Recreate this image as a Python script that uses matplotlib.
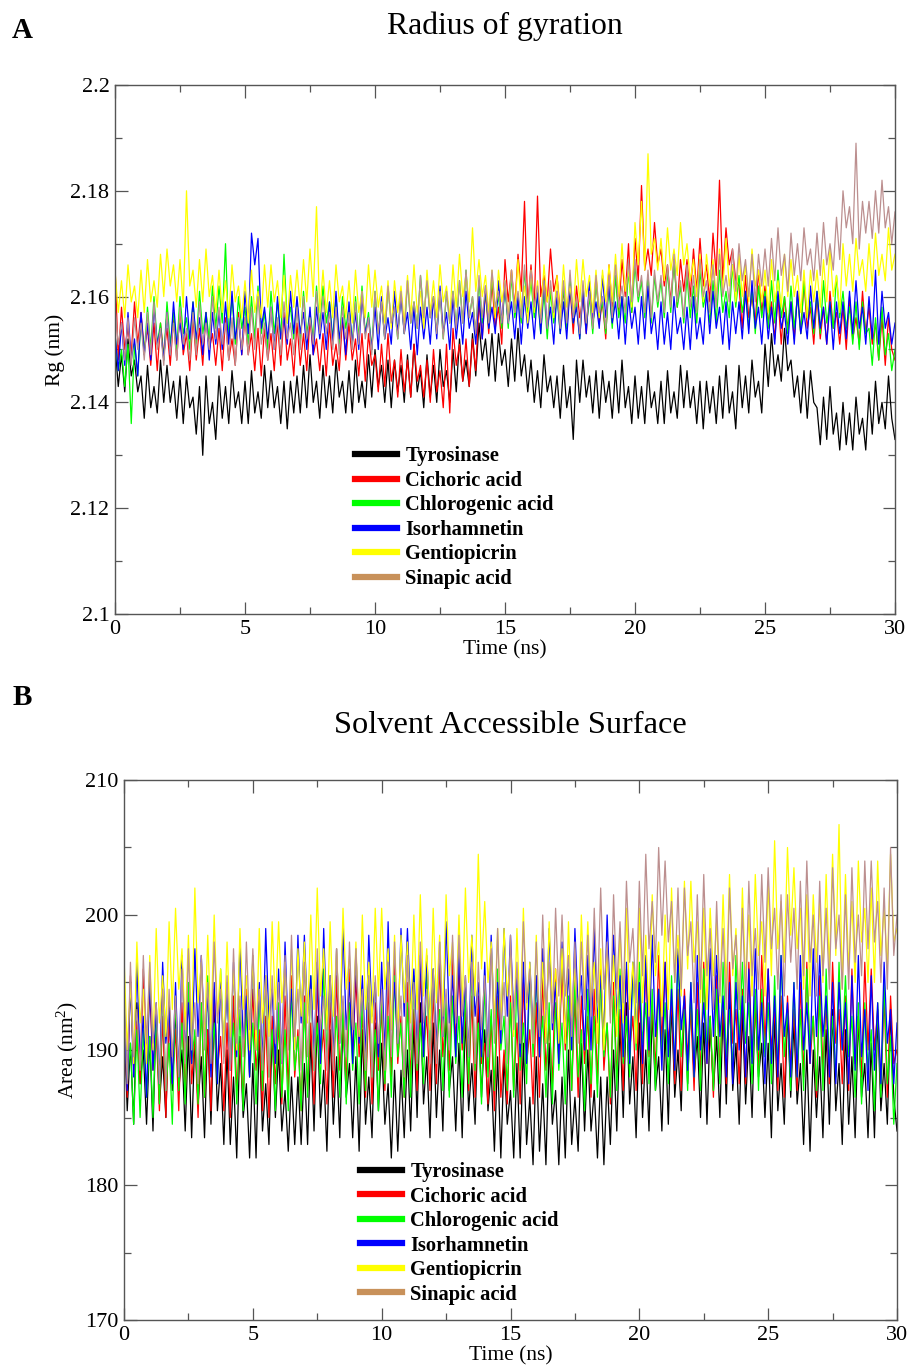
import numpy as np
import matplotlib
matplotlib.use("Agg")
import matplotlib.pyplot as plt
from matplotlib.lines import Line2D
from matplotlib.ticker import MultipleLocator, FuncFormatter

plt.rcParams['font.family'] = ['Liberation Serif', 'DejaVu Serif']
plt.rcParams['mathtext.fontset'] = 'custom'
plt.rcParams['mathtext.rm'] = 'Liberation Serif'
plt.rcParams['mathtext.it'] = 'Liberation Serif:italic'

labels = ["Tyrosinase", "Cichoric acid", "Chlorogenic acid", "Isorhamnetin",
          "Gentiopicrin", "Sinapic acid"]
line_colors = ["#000000", "#ff0000", "#00ff00", "#0000ff", "#ffff00", "#bc8f8f"]
legend_colors = ["#000000", "#ff0000", "#00ff00", "#0000ff", "#ffff00", "#c8915a"]

# ------------- Panel A: radius of gyration (nm), one row per ns, 0.125 ns steps -------------
rg_tyrosinase = [
    2.151, 2.143, 2.149, 2.142, 2.152, 2.145, 2.148, 2.142,
    2.145, 2.137, 2.147, 2.139, 2.143, 2.138, 2.148, 2.140,
    2.147, 2.140, 2.144, 2.137, 2.145, 2.136, 2.145, 2.139,
    2.141, 2.134, 2.143, 2.130, 2.145, 2.136, 2.140, 2.133,
    2.145, 2.137, 2.143, 2.136, 2.146, 2.139, 2.142, 2.136,
    2.144, 2.136, 2.146, 2.138, 2.142, 2.137, 2.147, 2.139,
    2.146, 2.139, 2.143, 2.136, 2.144, 2.135, 2.144, 2.138,
    2.145, 2.138, 2.147, 2.139, 2.149, 2.140, 2.144, 2.137,
    2.147, 2.139, 2.145, 2.138, 2.148, 2.141, 2.144, 2.138,
    2.146, 2.138, 2.148, 2.140, 2.144, 2.139, 2.149, 2.141,
    2.150, 2.143, 2.147, 2.140, 2.148, 2.139, 2.148, 2.142,
    2.147, 2.140, 2.149, 2.141, 2.151, 2.142, 2.146, 2.139,
    2.149, 2.141, 2.147, 2.140, 2.150, 2.143, 2.146, 2.140,
    2.150, 2.142, 2.152, 2.144, 2.148, 2.143, 2.153, 2.145,
    2.155, 2.148, 2.152, 2.145, 2.153, 2.144, 2.153, 2.147,
    2.150, 2.143, 2.152, 2.144, 2.154, 2.145, 2.149, 2.142,
    2.148, 2.140, 2.146, 2.139, 2.149, 2.142, 2.145, 2.139,
    2.145, 2.137, 2.147, 2.139, 2.143, 2.133, 2.148, 2.140,
    2.148, 2.141, 2.145, 2.138, 2.146, 2.137, 2.146, 2.140,
    2.144, 2.137, 2.146, 2.138, 2.148, 2.139, 2.143, 2.136,
    2.145, 2.137, 2.143, 2.136, 2.146, 2.139, 2.142, 2.136,
    2.144, 2.136, 2.146, 2.138, 2.142, 2.137, 2.147, 2.139,
    2.146, 2.139, 2.143, 2.136, 2.144, 2.135, 2.144, 2.138,
    2.143, 2.136, 2.145, 2.137, 2.147, 2.138, 2.142, 2.135,
    2.147, 2.139, 2.145, 2.138, 2.148, 2.141, 2.144, 2.138,
    2.151, 2.143, 2.153, 2.145, 2.149, 2.144, 2.154, 2.146,
    2.148, 2.141, 2.145, 2.138, 2.146, 2.137, 2.146, 2.140,
    2.139, 2.132, 2.141, 2.133, 2.143, 2.134, 2.138, 2.131,
    2.140, 2.132, 2.138, 2.131, 2.141, 2.134, 2.137, 2.131,
    2.142, 2.134, 2.144, 2.136, 2.140, 2.135, 2.145, 2.137,
    2.133]
rg_cichoric = [
    2.166, 2.148, 2.158, 2.150, 2.154, 2.149, 2.159, 2.151,
    2.157, 2.150, 2.154, 2.147, 2.155, 2.146, 2.155, 2.149,
    2.154, 2.147, 2.156, 2.148, 2.158, 2.149, 2.153, 2.146,
    2.156, 2.148, 2.154, 2.147, 2.157, 2.150, 2.153, 2.147,
    2.154, 2.146, 2.156, 2.148, 2.152, 2.147, 2.157, 2.149,
    2.156, 2.149, 2.153, 2.146, 2.154, 2.145, 2.154, 2.148,
    2.153, 2.146, 2.155, 2.147, 2.157, 2.148, 2.152, 2.145,
    2.155, 2.147, 2.153, 2.146, 2.156, 2.149, 2.152, 2.146,
    2.153, 2.145, 2.155, 2.147, 2.151, 2.146, 2.156, 2.148,
    2.155, 2.148, 2.152, 2.145, 2.153, 2.144, 2.153, 2.147,
    2.149, 2.142, 2.151, 2.143, 2.153, 2.144, 2.148, 2.141,
    2.150, 2.142, 2.148, 2.141, 2.151, 2.144, 2.147, 2.141,
    2.148, 2.140, 2.150, 2.142, 2.146, 2.139, 2.151, 2.138,
    2.154, 2.147, 2.151, 2.144, 2.152, 2.143, 2.152, 2.146,
    2.159, 2.152, 2.161, 2.153, 2.163, 2.154, 2.158, 2.151,
    2.167, 2.159, 2.165, 2.158, 2.168, 2.161, 2.178, 2.158,
    2.166, 2.158, 2.179, 2.160, 2.164, 2.159, 2.169, 2.161,
    2.164, 2.157, 2.161, 2.154, 2.162, 2.153, 2.162, 2.156,
    2.160, 2.153, 2.162, 2.154, 2.164, 2.155, 2.159, 2.152,
    2.166, 2.158, 2.164, 2.157, 2.167, 2.160, 2.170, 2.157,
    2.171, 2.163, 2.181, 2.165, 2.169, 2.164, 2.174, 2.166,
    2.169, 2.162, 2.166, 2.159, 2.167, 2.158, 2.167, 2.161,
    2.167, 2.160, 2.169, 2.161, 2.171, 2.162, 2.166, 2.159,
    2.172, 2.164, 2.182, 2.163, 2.173, 2.166, 2.169, 2.163,
    2.162, 2.154, 2.164, 2.156, 2.160, 2.155, 2.165, 2.157,
    2.162, 2.155, 2.159, 2.152, 2.160, 2.151, 2.160, 2.154,
    2.159, 2.152, 2.161, 2.153, 2.163, 2.154, 2.158, 2.151,
    2.160, 2.152, 2.158, 2.151, 2.161, 2.154, 2.157, 2.151,
    2.158, 2.150, 2.160, 2.152, 2.156, 2.151, 2.161, 2.153,
    2.158, 2.151, 2.155, 2.148, 2.156, 2.147, 2.156, 2.150,
    2.148]
rg_chlorogenic = [
    2.153, 2.146, 2.150, 2.143, 2.151, 2.136, 2.151, 2.145,
    2.156, 2.149, 2.158, 2.150, 2.160, 2.151, 2.155, 2.148,
    2.159, 2.151, 2.157, 2.150, 2.160, 2.153, 2.156, 2.150,
    2.159, 2.151, 2.161, 2.153, 2.157, 2.152, 2.162, 2.154,
    2.162, 2.155, 2.170, 2.152, 2.160, 2.151, 2.160, 2.154,
    2.158, 2.151, 2.160, 2.152, 2.162, 2.153, 2.157, 2.150,
    2.161, 2.153, 2.159, 2.152, 2.168, 2.155, 2.158, 2.152,
    2.159, 2.151, 2.161, 2.153, 2.157, 2.152, 2.162, 2.154,
    2.162, 2.155, 2.159, 2.152, 2.160, 2.151, 2.160, 2.154,
    2.158, 2.151, 2.160, 2.152, 2.162, 2.153, 2.157, 2.150,
    2.161, 2.153, 2.159, 2.152, 2.162, 2.155, 2.158, 2.152,
    2.161, 2.153, 2.163, 2.155, 2.159, 2.154, 2.164, 2.156,
    2.163, 2.156, 2.160, 2.153, 2.161, 2.152, 2.161, 2.155,
    2.161, 2.154, 2.163, 2.155, 2.165, 2.156, 2.160, 2.153,
    2.163, 2.155, 2.161, 2.154, 2.164, 2.157, 2.160, 2.154,
    2.162, 2.154, 2.164, 2.156, 2.160, 2.155, 2.165, 2.157,
    2.163, 2.156, 2.160, 2.153, 2.161, 2.152, 2.161, 2.155,
    2.160, 2.153, 2.162, 2.154, 2.164, 2.155, 2.159, 2.152,
    2.162, 2.154, 2.160, 2.153, 2.163, 2.156, 2.159, 2.153,
    2.162, 2.154, 2.164, 2.156, 2.160, 2.155, 2.165, 2.157,
    2.166, 2.159, 2.163, 2.156, 2.164, 2.155, 2.164, 2.158,
    2.163, 2.156, 2.165, 2.157, 2.167, 2.158, 2.162, 2.155,
    2.164, 2.156, 2.162, 2.155, 2.165, 2.158, 2.161, 2.155,
    2.163, 2.155, 2.165, 2.157, 2.161, 2.156, 2.166, 2.158,
    2.164, 2.157, 2.161, 2.154, 2.162, 2.153, 2.162, 2.156,
    2.161, 2.154, 2.163, 2.155, 2.165, 2.156, 2.160, 2.153,
    2.162, 2.154, 2.160, 2.153, 2.163, 2.156, 2.159, 2.153,
    2.161, 2.153, 2.163, 2.155, 2.159, 2.154, 2.164, 2.156,
    2.161, 2.154, 2.158, 2.151, 2.159, 2.150, 2.159, 2.153,
    2.154, 2.147, 2.156, 2.148, 2.158, 2.149, 2.153, 2.146,
    2.150]
rg_isorhamnetin = [
    2.153, 2.146, 2.155, 2.147, 2.157, 2.148, 2.152, 2.145,
    2.157, 2.149, 2.155, 2.148, 2.158, 2.151, 2.154, 2.148,
    2.157, 2.149, 2.159, 2.151, 2.155, 2.150, 2.160, 2.152,
    2.159, 2.152, 2.156, 2.149, 2.157, 2.148, 2.157, 2.151,
    2.157, 2.150, 2.159, 2.151, 2.161, 2.152, 2.156, 2.149,
    2.161, 2.153, 2.172, 2.166, 2.171, 2.154, 2.158, 2.152,
    2.158, 2.150, 2.160, 2.152, 2.156, 2.151, 2.161, 2.153,
    2.160, 2.153, 2.157, 2.150, 2.158, 2.149, 2.158, 2.152,
    2.157, 2.150, 2.159, 2.151, 2.161, 2.152, 2.156, 2.149,
    2.159, 2.151, 2.157, 2.150, 2.160, 2.153, 2.156, 2.150,
    2.158, 2.150, 2.160, 2.152, 2.156, 2.151, 2.161, 2.153,
    2.160, 2.153, 2.157, 2.150, 2.158, 2.149, 2.158, 2.152,
    2.158, 2.151, 2.160, 2.152, 2.162, 2.153, 2.157, 2.150,
    2.160, 2.152, 2.158, 2.151, 2.161, 2.154, 2.157, 2.151,
    2.160, 2.152, 2.162, 2.154, 2.158, 2.153, 2.163, 2.155,
    2.162, 2.155, 2.159, 2.152, 2.160, 2.151, 2.160, 2.154,
    2.159, 2.152, 2.161, 2.153, 2.163, 2.154, 2.158, 2.151,
    2.161, 2.153, 2.159, 2.152, 2.162, 2.155, 2.158, 2.152,
    2.161, 2.153, 2.163, 2.155, 2.159, 2.154, 2.164, 2.156,
    2.162, 2.155, 2.159, 2.152, 2.160, 2.151, 2.160, 2.154,
    2.158, 2.151, 2.160, 2.152, 2.162, 2.153, 2.157, 2.150,
    2.159, 2.151, 2.157, 2.150, 2.160, 2.153, 2.156, 2.150,
    2.158, 2.150, 2.160, 2.152, 2.156, 2.151, 2.161, 2.153,
    2.161, 2.154, 2.158, 2.151, 2.159, 2.150, 2.159, 2.153,
    2.159, 2.152, 2.161, 2.153, 2.163, 2.154, 2.158, 2.151,
    2.160, 2.152, 2.158, 2.151, 2.161, 2.154, 2.157, 2.151,
    2.159, 2.151, 2.161, 2.153, 2.157, 2.152, 2.162, 2.154,
    2.161, 2.154, 2.158, 2.151, 2.159, 2.150, 2.159, 2.153,
    2.159, 2.152, 2.161, 2.153, 2.163, 2.154, 2.158, 2.151,
    2.160, 2.152, 2.165, 2.151, 2.161, 2.154, 2.157, 2.151,
    2.155]
rg_gentiopicrin = [
    2.165, 2.157, 2.163, 2.156, 2.166, 2.159, 2.162, 2.156,
    2.165, 2.157, 2.167, 2.159, 2.163, 2.158, 2.168, 2.160,
    2.169, 2.162, 2.166, 2.159, 2.167, 2.158, 2.180, 2.162,
    2.165, 2.158, 2.167, 2.159, 2.169, 2.160, 2.164, 2.157,
    2.165, 2.157, 2.163, 2.156, 2.166, 2.159, 2.162, 2.156,
    2.163, 2.155, 2.165, 2.157, 2.161, 2.156, 2.166, 2.158,
    2.166, 2.159, 2.163, 2.156, 2.164, 2.155, 2.164, 2.158,
    2.165, 2.158, 2.167, 2.159, 2.169, 2.160, 2.177, 2.157,
    2.165, 2.157, 2.163, 2.156, 2.166, 2.159, 2.162, 2.156,
    2.163, 2.155, 2.165, 2.157, 2.161, 2.156, 2.166, 2.158,
    2.165, 2.158, 2.162, 2.155, 2.163, 2.154, 2.163, 2.157,
    2.162, 2.155, 2.164, 2.156, 2.166, 2.157, 2.161, 2.154,
    2.165, 2.157, 2.163, 2.156, 2.166, 2.159, 2.162, 2.156,
    2.166, 2.158, 2.168, 2.160, 2.164, 2.159, 2.173, 2.161,
    2.167, 2.160, 2.164, 2.157, 2.165, 2.156, 2.165, 2.159,
    2.163, 2.156, 2.165, 2.157, 2.167, 2.158, 2.162, 2.155,
    2.165, 2.157, 2.163, 2.156, 2.166, 2.159, 2.162, 2.156,
    2.164, 2.156, 2.166, 2.158, 2.162, 2.157, 2.167, 2.159,
    2.167, 2.160, 2.164, 2.157, 2.165, 2.156, 2.165, 2.159,
    2.166, 2.159, 2.168, 2.160, 2.170, 2.161, 2.165, 2.158,
    2.174, 2.166, 2.178, 2.165, 2.187, 2.168, 2.171, 2.165,
    2.171, 2.163, 2.173, 2.165, 2.169, 2.164, 2.174, 2.166,
    2.170, 2.163, 2.167, 2.160, 2.168, 2.159, 2.168, 2.162,
    2.167, 2.160, 2.169, 2.161, 2.171, 2.162, 2.166, 2.159,
    2.168, 2.160, 2.166, 2.159, 2.169, 2.162, 2.165, 2.159,
    2.165, 2.157, 2.167, 2.159, 2.163, 2.158, 2.168, 2.160,
    2.167, 2.160, 2.164, 2.157, 2.165, 2.156, 2.165, 2.159,
    2.165, 2.158, 2.167, 2.159, 2.169, 2.160, 2.164, 2.157,
    2.170, 2.162, 2.168, 2.161, 2.171, 2.164, 2.167, 2.161,
    2.170, 2.162, 2.172, 2.164, 2.168, 2.163, 2.173, 2.165,
    2.168]
rg_sinapic = [
    2.158, 2.151, 2.155, 2.148, 2.156, 2.147, 2.156, 2.150,
    2.155, 2.148, 2.157, 2.149, 2.159, 2.150, 2.154, 2.147,
    2.157, 2.149, 2.155, 2.148, 2.158, 2.151, 2.154, 2.148,
    2.157, 2.149, 2.159, 2.151, 2.155, 2.150, 2.160, 2.152,
    2.158, 2.151, 2.155, 2.148, 2.156, 2.147, 2.156, 2.150,
    2.156, 2.149, 2.158, 2.150, 2.160, 2.151, 2.155, 2.148,
    2.158, 2.150, 2.156, 2.149, 2.159, 2.152, 2.155, 2.149,
    2.158, 2.150, 2.160, 2.152, 2.156, 2.151, 2.161, 2.153,
    2.160, 2.153, 2.157, 2.150, 2.158, 2.149, 2.158, 2.152,
    2.157, 2.150, 2.159, 2.151, 2.161, 2.152, 2.156, 2.149,
    2.161, 2.153, 2.159, 2.152, 2.162, 2.155, 2.158, 2.152,
    2.161, 2.153, 2.163, 2.155, 2.159, 2.154, 2.164, 2.156,
    2.163, 2.156, 2.160, 2.153, 2.161, 2.152, 2.161, 2.155,
    2.161, 2.154, 2.163, 2.155, 2.165, 2.156, 2.160, 2.153,
    2.164, 2.156, 2.162, 2.155, 2.165, 2.158, 2.161, 2.155,
    2.163, 2.155, 2.165, 2.157, 2.161, 2.156, 2.166, 2.158,
    2.165, 2.158, 2.162, 2.155, 2.163, 2.154, 2.163, 2.157,
    2.161, 2.154, 2.163, 2.155, 2.165, 2.156, 2.160, 2.153,
    2.163, 2.155, 2.161, 2.154, 2.164, 2.157, 2.160, 2.154,
    2.164, 2.156, 2.166, 2.158, 2.162, 2.157, 2.167, 2.159,
    2.167, 2.160, 2.164, 2.157, 2.165, 2.156, 2.165, 2.159,
    2.164, 2.157, 2.166, 2.158, 2.168, 2.159, 2.163, 2.156,
    2.166, 2.158, 2.164, 2.157, 2.167, 2.160, 2.163, 2.157,
    2.166, 2.158, 2.168, 2.160, 2.164, 2.159, 2.169, 2.161,
    2.170, 2.163, 2.167, 2.160, 2.168, 2.159, 2.168, 2.162,
    2.169, 2.162, 2.171, 2.163, 2.173, 2.164, 2.168, 2.161,
    2.172, 2.164, 2.170, 2.163, 2.173, 2.166, 2.169, 2.163,
    2.172, 2.164, 2.174, 2.166, 2.170, 2.165, 2.175, 2.167,
    2.180, 2.173, 2.177, 2.170, 2.189, 2.169, 2.178, 2.172,
    2.178, 2.171, 2.180, 2.172, 2.182, 2.173, 2.177, 2.170,
    2.176]

# ------------- Panel B: solvent accessible surface (nm^2), one row per ns -------------
sas_tyrosinase = [
    192.5, 185.5, 190.5, 184.5, 193.5, 187.5, 190.0, 184.5,
    191.0, 184.0, 193.0, 186.0, 189.5, 185.0, 193.5, 187.0,
    193.0, 187.0, 190.0, 184.0, 191.0, 183.5, 191.0, 186.0,
    189.5, 183.5, 191.5, 184.5, 193.0, 185.5, 189.0, 183.0,
    190.0, 183.0, 188.0, 182.0, 191.0, 185.0, 187.5, 182.0,
    189.0, 182.0, 191.0, 184.0, 187.5, 183.0, 191.5, 185.0,
    190.0, 184.0, 187.0, 182.5, 188.0, 183.0, 188.0, 183.0,
    189.0, 183.0, 191.0, 184.0, 192.5, 185.0, 188.5, 182.5,
    191.5, 184.5, 189.5, 183.5, 192.5, 186.5, 189.0, 183.5,
    189.5, 182.5, 191.5, 184.5, 188.0, 183.5, 192.0, 185.5,
    190.5, 184.5, 187.5, 182.0, 188.5, 182.5, 188.5, 183.5,
    190.0, 184.0, 192.0, 185.0, 193.5, 186.0, 189.5, 183.5,
    192.0, 185.0, 190.0, 184.0, 193.0, 187.0, 189.5, 184.0,
    190.5, 183.5, 192.5, 185.5, 189.0, 184.5, 193.0, 186.5,
    191.5, 185.5, 188.5, 182.5, 189.5, 182.0, 189.5, 184.5,
    187.0, 182.0, 189.0, 182.0, 190.5, 183.0, 186.5, 181.5,
    189.5, 182.5, 187.5, 181.5, 190.5, 184.5, 187.0, 181.5,
    188.0, 182.0, 190.0, 183.0, 186.5, 182.5, 190.5, 184.0,
    190.0, 184.0, 187.0, 182.0, 188.0, 181.5, 188.0, 183.0,
    190.0, 184.0, 192.0, 185.0, 193.5, 186.0, 189.5, 183.5,
    192.0, 185.0, 190.0, 184.0, 193.0, 187.0, 189.5, 184.0,
    191.5, 184.5, 193.5, 186.5, 190.0, 185.5, 194.0, 187.5,
    194.0, 188.0, 191.0, 185.0, 192.0, 184.5, 192.0, 187.0,
    191.0, 185.0, 193.0, 186.0, 194.5, 187.0, 190.5, 184.5,
    193.0, 186.0, 191.0, 185.0, 194.0, 188.0, 190.5, 185.0,
    190.5, 183.5, 192.5, 185.5, 189.0, 184.5, 193.0, 186.5,
    192.0, 186.0, 189.0, 183.0, 190.0, 182.5, 190.0, 185.0,
    189.5, 183.5, 191.5, 184.5, 193.0, 185.5, 189.0, 183.0,
    191.5, 184.5, 189.5, 183.5, 192.5, 186.5, 189.0, 183.5,
    190.5, 183.5, 192.5, 185.5, 189.0, 184.5, 193.0, 186.5,
    184.0]
sas_cichoric = [
    193.5, 186.5, 195.5, 188.5, 192.0, 187.5, 196.0, 189.5,
    194.5, 188.5, 191.5, 185.5, 192.5, 185.0, 192.5, 187.5,
    191.5, 185.5, 193.5, 186.5, 195.0, 187.5, 191.0, 185.0,
    193.5, 186.5, 191.5, 185.5, 194.5, 188.5, 191.0, 185.5,
    192.0, 185.0, 194.0, 187.0, 190.5, 186.0, 194.5, 188.0,
    194.5, 188.5, 191.5, 185.5, 192.5, 185.0, 192.5, 187.5,
    192.0, 186.0, 194.0, 187.0, 195.5, 188.0, 191.5, 185.5,
    194.0, 187.0, 192.0, 186.0, 195.0, 189.0, 191.5, 186.0,
    193.5, 186.5, 195.5, 188.5, 192.0, 187.5, 196.0, 189.5,
    195.5, 189.5, 192.5, 186.5, 193.5, 186.0, 193.5, 188.5,
    193.0, 187.0, 195.0, 188.0, 196.5, 189.0, 192.5, 186.5,
    195.0, 188.0, 193.0, 187.0, 196.0, 190.0, 192.5, 187.0,
    194.5, 187.5, 196.5, 189.5, 193.0, 188.5, 197.0, 190.5,
    196.0, 190.0, 193.0, 187.0, 194.0, 186.5, 194.0, 189.0,
    190.5, 186.0, 192.5, 185.5, 194.0, 186.5, 190.0, 186.0,
    194.0, 187.0, 192.0, 186.0, 195.0, 189.0, 191.5, 186.0,
    193.5, 186.5, 195.5, 188.5, 192.0, 187.5, 196.0, 189.5,
    196.0, 190.0, 193.0, 187.0, 194.0, 186.5, 194.0, 189.0,
    192.5, 186.5, 194.5, 187.5, 196.0, 188.5, 192.0, 186.0,
    195.0, 188.0, 193.0, 187.0, 196.0, 190.0, 192.5, 187.0,
    194.5, 187.5, 196.5, 189.5, 193.0, 188.5, 197.0, 190.5,
    196.5, 190.5, 193.5, 187.5, 194.5, 187.0, 194.5, 189.5,
    193.0, 187.0, 195.0, 188.0, 196.5, 189.0, 192.5, 186.5,
    195.5, 188.5, 193.5, 187.5, 196.5, 190.5, 193.0, 187.5,
    194.5, 187.5, 196.5, 189.5, 193.0, 188.5, 197.0, 190.5,
    196.0, 190.0, 193.0, 187.0, 194.0, 186.5, 194.0, 189.0,
    193.0, 187.0, 195.0, 188.0, 196.5, 189.0, 192.5, 186.5,
    195.5, 188.5, 193.5, 187.5, 196.5, 190.5, 193.0, 187.5,
    194.0, 187.0, 196.0, 189.0, 192.5, 188.0, 196.5, 190.0,
    196.0, 190.0, 193.0, 187.0, 194.0, 186.5, 194.0, 189.0,
    190.0]
sas_chlorogenic = [
    193.5, 187.5, 190.5, 184.5, 191.5, 185.0, 191.5, 186.5,
    191.0, 185.0, 193.0, 186.0, 194.5, 187.0, 190.5, 184.5,
    194.0, 187.0, 192.0, 186.0, 195.0, 189.0, 191.5, 186.0,
    193.5, 186.5, 195.5, 188.5, 192.0, 187.5, 196.0, 189.5,
    195.0, 189.0, 192.0, 186.0, 193.0, 185.5, 193.0, 188.0,
    192.0, 186.0, 194.0, 187.0, 195.5, 188.0, 191.5, 185.5,
    193.5, 186.5, 191.5, 185.5, 194.5, 188.5, 191.0, 185.5,
    193.5, 186.5, 195.5, 188.5, 192.0, 187.5, 196.0, 189.5,
    195.5, 189.5, 192.5, 186.5, 193.5, 186.0, 193.5, 188.5,
    192.0, 186.0, 194.0, 187.0, 195.5, 188.0, 191.5, 185.5,
    194.5, 187.5, 192.5, 186.5, 195.5, 189.5, 192.0, 186.5,
    193.5, 186.5, 195.5, 188.5, 192.0, 187.5, 196.0, 189.5,
    196.0, 190.0, 193.0, 187.0, 194.0, 186.5, 194.0, 189.0,
    192.5, 186.5, 194.5, 187.5, 196.0, 188.5, 192.0, 186.0,
    195.0, 188.0, 193.0, 187.0, 196.0, 190.0, 192.5, 187.0,
    193.5, 186.5, 195.5, 188.5, 192.0, 187.5, 196.0, 189.5,
    195.5, 189.5, 192.5, 186.5, 193.5, 186.0, 193.5, 188.5,
    192.0, 186.0, 194.0, 187.0, 195.5, 188.0, 191.5, 185.5,
    194.5, 187.5, 192.5, 186.5, 195.5, 189.5, 192.0, 186.5,
    194.0, 187.0, 196.0, 189.0, 192.5, 188.0, 196.5, 190.0,
    196.5, 190.5, 193.5, 187.5, 194.5, 187.0, 194.5, 189.5,
    193.5, 187.5, 195.5, 188.5, 197.0, 189.5, 193.0, 187.0,
    195.0, 188.0, 193.0, 187.0, 196.0, 190.0, 192.5, 187.0,
    194.5, 187.5, 196.5, 189.5, 193.0, 188.5, 197.0, 190.5,
    196.5, 190.5, 193.5, 187.5, 194.5, 187.0, 194.5, 189.5,
    193.5, 187.5, 195.5, 188.5, 197.0, 189.5, 193.0, 187.0,
    195.0, 188.0, 193.0, 187.0, 196.0, 190.0, 192.5, 187.0,
    194.0, 187.0, 196.0, 189.0, 192.5, 188.0, 196.5, 190.0,
    195.5, 189.5, 192.5, 186.5, 193.5, 186.0, 193.5, 188.5,
    191.5, 185.5, 193.5, 186.5, 195.0, 187.5, 191.0, 184.5,
    189.0]
sas_isorhamnetin = [
    193.0, 187.0, 195.0, 188.0, 196.5, 189.0, 192.5, 186.5,
    195.5, 188.5, 193.5, 187.5, 196.5, 190.5, 193.0, 187.5,
    195.0, 188.0, 197.0, 190.0, 193.5, 189.0, 197.5, 191.0,
    197.0, 191.0, 194.0, 188.0, 195.0, 187.5, 195.0, 190.0,
    194.5, 188.5, 196.5, 189.5, 198.0, 190.5, 194.0, 188.0,
    197.0, 190.0, 195.0, 189.0, 199.0, 192.0, 194.5, 189.0,
    196.0, 189.0, 198.0, 191.0, 194.5, 190.0, 198.5, 192.0,
    198.5, 192.5, 195.5, 189.5, 196.5, 189.0, 199.0, 191.5,
    195.5, 189.5, 197.5, 190.5, 199.0, 191.5, 195.0, 189.0,
    197.5, 190.5, 195.5, 189.5, 198.5, 192.5, 195.0, 189.5,
    196.5, 189.5, 199.5, 191.5, 195.0, 190.5, 199.0, 192.5,
    199.0, 193.0, 196.0, 190.0, 197.0, 189.5, 197.0, 192.0,
    196.0, 190.0, 198.0, 191.0, 199.5, 192.0, 195.5, 189.5,
    197.5, 190.5, 195.5, 189.5, 198.5, 192.5, 195.0, 189.5,
    196.5, 189.5, 198.5, 191.5, 195.0, 190.5, 199.0, 192.5,
    198.5, 192.5, 195.5, 189.5, 196.5, 189.0, 196.5, 191.5,
    195.5, 189.5, 197.5, 190.5, 199.0, 191.5, 195.0, 189.0,
    198.0, 191.0, 196.0, 190.0, 199.0, 193.0, 195.5, 190.0,
    197.0, 190.0, 199.0, 192.0, 195.5, 191.0, 200.0, 193.0,
    198.5, 192.5, 195.5, 189.5, 196.5, 189.0, 196.5, 191.5,
    195.0, 189.0, 197.0, 190.0, 198.5, 191.0, 194.5, 188.5,
    196.5, 189.5, 194.5, 188.5, 197.5, 191.5, 194.0, 188.5,
    195.0, 188.0, 197.0, 190.0, 193.5, 189.0, 197.5, 191.0,
    197.0, 191.0, 194.0, 188.0, 195.0, 187.5, 195.0, 190.0,
    194.0, 188.0, 196.0, 189.0, 197.5, 190.0, 193.5, 187.5,
    196.0, 189.0, 194.0, 188.0, 197.0, 191.0, 193.5, 188.0,
    195.0, 188.0, 197.0, 190.0, 193.5, 189.0, 197.5, 191.0,
    197.0, 191.0, 194.0, 188.0, 195.0, 187.5, 195.0, 190.0,
    193.5, 187.5, 195.5, 188.5, 197.0, 189.5, 193.0, 187.0,
    195.5, 188.5, 193.5, 187.5, 196.5, 190.5, 193.0, 187.5,
    192.0]
sas_gentiopicrin = [
    197.0, 190.0, 195.0, 189.0, 198.0, 192.0, 194.5, 189.0,
    197.0, 190.0, 199.0, 192.0, 195.5, 191.0, 199.5, 193.0,
    200.5, 194.5, 197.5, 191.5, 198.5, 191.0, 202.0, 193.5,
    196.5, 190.5, 198.5, 191.5, 200.0, 192.5, 196.0, 190.0,
    198.0, 191.0, 196.0, 190.0, 199.0, 193.0, 195.5, 190.0,
    197.0, 190.0, 199.0, 192.0, 195.5, 191.0, 199.5, 193.0,
    199.5, 193.5, 196.5, 190.5, 197.5, 190.0, 197.5, 192.5,
    198.0, 192.0, 200.0, 193.0, 202.0, 194.0, 197.5, 191.5,
    199.5, 192.5, 197.5, 191.5, 200.5, 194.5, 197.0, 191.5,
    198.0, 191.0, 200.0, 193.0, 196.5, 192.0, 200.5, 194.0,
    200.5, 194.5, 197.5, 191.5, 198.5, 191.0, 198.5, 193.5,
    198.0, 192.0, 200.0, 193.0, 201.5, 194.0, 197.5, 191.5,
    200.5, 193.5, 198.5, 192.5, 201.5, 195.5, 198.0, 192.5,
    200.0, 193.0, 202.0, 195.0, 198.5, 194.0, 204.5, 196.0,
    201.0, 195.0, 198.0, 192.0, 199.0, 191.5, 199.0, 194.0,
    197.0, 191.0, 199.0, 192.0, 200.5, 193.0, 196.5, 190.5,
    198.5, 191.5, 196.5, 190.5, 199.5, 193.5, 196.0, 190.5,
    197.5, 190.5, 199.5, 192.5, 196.0, 191.5, 200.0, 193.5,
    199.5, 193.5, 196.5, 190.5, 197.5, 190.0, 197.5, 192.5,
    197.0, 191.0, 199.0, 192.0, 200.5, 193.0, 196.5, 190.5,
    200.5, 193.5, 198.5, 192.5, 201.5, 195.5, 198.0, 192.5,
    200.0, 193.0, 202.0, 195.0, 198.5, 194.0, 202.5, 196.0,
    202.5, 196.5, 199.5, 193.5, 200.5, 193.0, 200.5, 195.5,
    199.5, 193.5, 201.5, 194.5, 203.0, 195.5, 199.0, 193.0,
    202.0, 195.0, 200.0, 194.0, 203.0, 197.0, 199.5, 194.0,
    202.5, 195.5, 205.5, 197.5, 201.0, 196.5, 205.0, 198.5,
    203.5, 197.5, 200.5, 194.5, 201.5, 194.0, 201.5, 196.5,
    201.0, 195.0, 203.0, 196.0, 204.5, 197.0, 206.7, 194.5,
    203.0, 196.0, 201.0, 195.0, 204.0, 198.0, 200.5, 195.0,
    202.0, 195.0, 204.0, 197.0, 200.5, 196.0, 204.5, 198.0,
    199.0]
sas_sinapic = [
    194.5, 187.5, 196.5, 189.5, 193.0, 188.5, 197.0, 190.5,
    196.5, 190.5, 193.5, 187.5, 194.5, 187.0, 194.5, 189.5,
    194.0, 188.0, 196.0, 189.0, 197.5, 190.0, 193.5, 187.5,
    197.0, 190.0, 195.0, 189.0, 198.0, 192.0, 194.5, 189.0,
    195.5, 188.5, 197.5, 190.5, 194.0, 189.5, 198.0, 191.5,
    197.5, 191.5, 194.5, 188.5, 195.5, 188.0, 195.5, 190.5,
    195.0, 189.0, 197.0, 190.0, 198.5, 191.0, 194.5, 188.5,
    196.5, 189.5, 194.5, 188.5, 197.5, 191.5, 194.0, 188.5,
    195.5, 188.5, 197.5, 190.5, 194.0, 189.5, 198.0, 191.5,
    197.5, 191.5, 194.5, 188.5, 195.5, 188.0, 195.5, 190.5,
    194.5, 188.5, 196.5, 189.5, 198.0, 190.5, 194.0, 188.0,
    197.0, 190.0, 195.0, 189.0, 198.0, 192.0, 194.5, 189.0,
    196.0, 189.0, 198.0, 191.0, 194.5, 190.0, 198.5, 192.0,
    198.5, 192.5, 195.5, 189.5, 196.5, 189.0, 196.5, 191.5,
    195.5, 189.5, 197.5, 190.5, 199.0, 191.5, 195.0, 189.0,
    198.5, 191.5, 196.5, 190.5, 199.5, 193.5, 196.0, 190.5,
    198.0, 191.0, 200.0, 193.0, 196.5, 192.0, 200.5, 194.0,
    200.0, 194.0, 197.0, 191.0, 198.0, 190.5, 198.0, 193.0,
    198.5, 192.5, 200.5, 193.5, 202.0, 194.5, 198.0, 192.0,
    201.5, 194.5, 199.5, 193.5, 202.5, 196.5, 199.0, 193.5,
    202.5, 195.5, 204.5, 197.5, 201.0, 196.5, 205.0, 198.5,
    204.0, 198.0, 201.0, 195.0, 202.0, 194.5, 202.0, 197.0,
    199.5, 193.5, 201.5, 194.5, 203.0, 195.5, 199.0, 193.0,
    201.0, 194.0, 199.0, 193.0, 202.0, 196.0, 198.5, 193.0,
    200.5, 193.5, 202.5, 195.5, 199.0, 194.5, 203.0, 196.5,
    203.5, 197.5, 200.5, 194.5, 201.5, 194.0, 201.5, 196.5,
    200.5, 194.5, 202.5, 195.5, 204.0, 196.5, 200.0, 194.0,
    202.5, 195.5, 200.5, 194.5, 203.5, 197.5, 200.0, 194.5,
    201.5, 194.5, 203.5, 196.5, 200.0, 195.5, 204.0, 197.5,
    204.0, 198.0, 201.0, 195.0, 202.0, 194.5, 205.0, 197.0,
    200.0]

rg_series = [rg_tyrosinase, rg_cichoric, rg_chlorogenic, rg_isorhamnetin,
             rg_gentiopicrin, rg_sinapic]
sas_series = [sas_tyrosinase, sas_cichoric, sas_chlorogenic, sas_isorhamnetin,
              sas_gentiopicrin, sas_sinapic]

W, H = 910, 1372
fig = plt.figure(figsize=(W / 100, H / 100), dpi=100)


def px_axes(x0, y0, x1, y1):
    return fig.add_axes([x0 / W, 1 - y1 / H, (x1 - x0) / W, (y1 - y0) / H])


fmt = FuncFormatter(lambda v, p: "%g" % round(v, 6))
spine_col = "#555555"


def style_axes(ax, ymin, ymax, ymaj, ymin_step):
    ax.set_xlim(0, 30)
    ax.set_ylim(ymin, ymax)
    ax.xaxis.set_major_locator(MultipleLocator(5))
    ax.xaxis.set_minor_locator(MultipleLocator(2.5))
    ax.yaxis.set_major_locator(MultipleLocator(ymaj))
    ax.yaxis.set_minor_locator(MultipleLocator(ymin_step))
    ax.yaxis.set_major_formatter(fmt)
    ax.xaxis.set_major_formatter(fmt)
    ax.tick_params(which="both", direction="in", top=True, right=True,
                   color=spine_col, width=0.9, labelsize=16, pad=4)
    ax.tick_params(which="major", length=9)
    ax.tick_params(which="minor", length=5)
    for s in ax.spines.values():
        s.set_color(spine_col)
        s.set_linewidth(1.0)


def draw(ax, series):
    for vals, c in zip(series, line_colors):
        t = np.linspace(0, 30, len(vals))
        ax.plot(t, vals, color=c, lw=0.9)
    return [Line2D([], [], color=c, lw=4.5) for c in legend_colors]


leg_kw = dict(loc="upper left", frameon=False, handlelength=2.05,
              handletextpad=0.4, labelspacing=0.22, borderpad=0,
              borderaxespad=0, prop={"weight": "bold", "size": 14.8})

# Panel A
axA = px_axes(115, 85, 895, 614)
hA = draw(axA, rg_series)
style_axes(axA, 2.1, 2.2, 0.02, 0.01)
axA.set_xlabel("Time (ns)", fontsize=15.5, labelpad=1)
axA.set_ylabel("Rg (nm)", fontsize=15.5, labelpad=4)
axA.set_title("Radius of gyration", fontsize=22.8, pad=37)
axA.legend(hA, labels, bbox_to_anchor=(0.3077, 0.317), **leg_kw)

# Panel B
axB = px_axes(124, 780, 897, 1320)
hB = draw(axB, sas_series)
style_axes(axB, 170, 210, 10, 5)
axB.set_xlabel("Time (ns)", fontsize=15.5, labelpad=1)
axB.set_ylabel(r"Area (nm$^2$)", fontsize=15.5, labelpad=4)
axB.set_title("Solvent Accessible Surface", fontsize=23.3, pad=34)
axB.legend(hB, labels, bbox_to_anchor=(0.3053, 0.2926), **leg_kw)

fig.text(22 / W, 1 - 31 / H, "A", fontsize=21, fontweight="bold",
         ha="center", va="center")
fig.text(22 / W, 1 - 697 / H, "B", fontsize=21, fontweight="bold",
         ha="center", va="center")

fig.savefig("out.png", dpi=100)
